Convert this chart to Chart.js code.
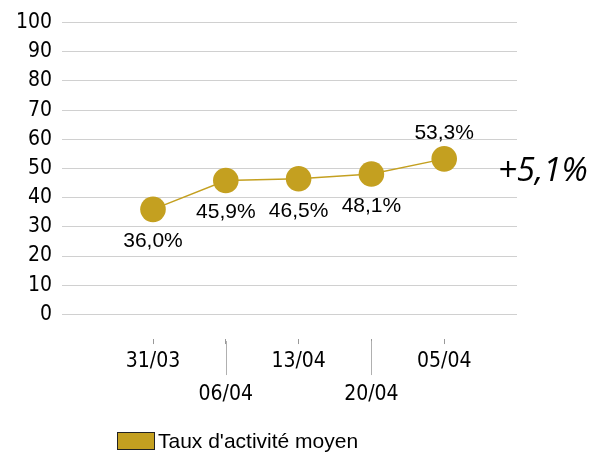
<!DOCTYPE html>
<html lang="fr">
<head>
<meta charset="UTF-8">
<title>Taux d'activité moyen</title>
<script src="https://cdn.jsdelivr.net/npm/chart.js@4.4.0/dist/chart.umd.min.js"></script>
<style>
  html, body { margin: 0; padding: 0; background: #fff; }
  #wrap { width: 590px; height: 452px; }
</style>
</head>
<body>
<div id="wrap"><canvas id="myChart" width="590" height="452"></canvas></div>
<script>
// semaines et taux moyen (%)
var weeks = ["31/03", "06/04", "13/04", "20/04", "05/04"];
var rates = [36.0, 45.9, 46.5, 48.1, 53.3];
var rateLabels = ["36,0%", "45,9%", "46,5%", "48,1%", "53,3%"];
var yTicks = [0, 10, 20, 30, 40, 50, 60, 70, 80, 90, 100];
var evolution = "+5,1%";
var seriesName = "Taux d'activité moyen";

var gold = "#C4A020";
var axisFont = "'DejaVu Sans Condensed', 'DejaVu Sans', Verdana, sans-serif";

// etiquettes de valeur, sous le point sauf la derniere
var labelsPlugin = {
  id: "extras",
  afterDatasetsDraw: function (chart) {
    var ctx = chart.ctx;
    var meta = chart.getDatasetMeta(0);
    var area = chart.chartArea;
    var xs = chart.scales.x;
    ctx.save();

    ctx.fillStyle = "#000";
    ctx.font = "21px 'Liberation Sans', Arial, sans-serif";
    ctx.textAlign = "center";
    ctx.textBaseline = "middle";
    meta.data.forEach(function (pt, i) {
      var dy = i < meta.data.length - 1 ? 32 : -26;
      ctx.fillText(rateLabels[i], pt.x, pt.y + dy);
    });

    // traits de separation sous les dates decalees
    ctx.strokeStyle = "#b0b0b0";
    ctx.lineWidth = 1;
    for (var i = 1; i < weeks.length; i += 2) {
      var px = Math.round(xs.getPixelForValue(i)) + 0.5;
      ctx.beginPath();
      ctx.moveTo(px, area.bottom + 2);
      ctx.lineTo(px, area.bottom + 36);
      ctx.stroke();
    }

    // evolution sur la periode
    ctx.font = "italic 33px 'Open Sans', sans-serif";
    ctx.textAlign = "left";
    ctx.fillText(evolution, area.right - 19, 172);

    // legende
    ctx.fillStyle = gold;
    ctx.fillRect(117.5, 432.5, 37, 17);
    ctx.strokeStyle = "#222";
    ctx.strokeRect(117.5, 432.5, 37, 17);
    ctx.fillStyle = "#000";
    ctx.font = "21px 'Liberation Sans', Arial, sans-serif";
    ctx.textBaseline = "middle";
    ctx.fillText(chart.data.datasets[0].label, 158, 442);
    ctx.restore();
  }
};

new Chart("myChart", {
  type: "line",
  data: {
    datasets: [{
      label: seriesName,
      data: rates.map(function (v, i) { return { x: i, y: v }; }),
      borderColor: gold,
      backgroundColor: gold,
      borderWidth: 1.5,
      pointRadius: 12.8,
      pointHoverRadius: 12.8,
      pointBorderWidth: 0,
      tension: 0
    }]
  },
  options: {
    responsive: false,
    animation: false,
    events: [],
    layout: { padding: { top: 19, right: 73, bottom: 40, left: 0 } },
    plugins: {
      legend: { display: false },
      tooltip: { enabled: false }
    },
    scales: {
      x: {
        type: "linear",
        min: -1.25,
        max: 5,
        afterBuildTicks: function (axis) {
          axis.ticks = weeks.map(function (w, i) { return { value: i }; });
        },
        ticks: {
          autoSkip: false,
          maxRotation: 0,
          padding: 1,
          color: "#000",
          font: { family: axisFont, size: 21, lineHeight: 1.57 },
          callback: function (v, i) {
            return i % 2 === 1 ? ["", weeks[i]] : weeks[i];
          }
        },
        grid: { drawOnChartArea: false, tickLength: 5, color: "#999" },
        border: { display: false }
      },
      y: {
        min: -8.45,
        max: 100,
        afterBuildTicks: function (axis) {
          axis.ticks = yTicks.map(function (v) { return { value: v }; });
        },
        afterFit: function (axis) { axis.width = 62; },
        ticks: {
          padding: 10,
          color: "#000",
          font: { family: axisFont, size: 21 }
        },
        grid: { color: "#d0d0d0", drawTicks: false },
        border: { display: false }
      }
    }
  },
  plugins: [labelsPlugin]
});
</script>
</body>
</html>
